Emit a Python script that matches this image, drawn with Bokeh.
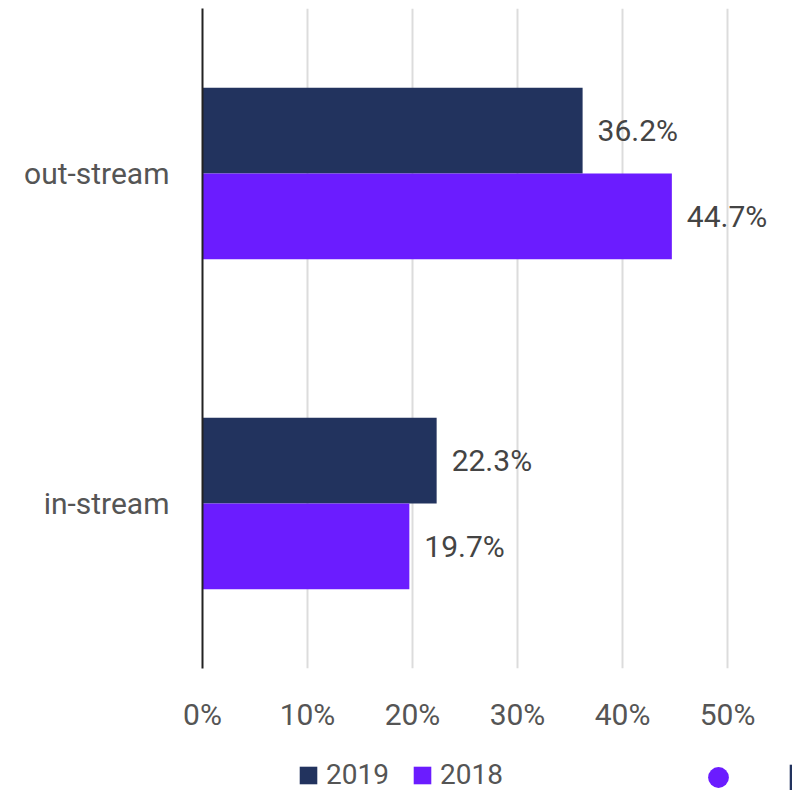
from bokeh.plotting import figure
from bokeh.layouts import column
from bokeh.models import ColumnDataSource, Range1d, FactorRange, Legend, LegendItem, FixedTicker
from bokeh.transform import dodge
from bokeh.core.properties import value
from bokeh.embed import file_html
from bokeh.resources import INLINE

# ---- data ----
categories = ["in-stream", "out-stream"]
series = ["2019", "2018"]
values_2019 = [22.3, 36.2]
values_2018 = [19.7, 44.7]
x_ticks = [0, 10, 20, 30, 40, 50]
x_tick_labels = ["0%", "10%", "20%", "30%", "40%", "50%"]

# ---- styles ----
C2019 = "#22335e"
C2018 = "#6b1cff"
FONT = "Roboto"

src = ColumnDataSource(dict(
    cat=categories,
    v2019=values_2019,
    v2018=values_2018,
    l2019=[f"{v}%" for v in values_2019],
    l2018=[f"{v}%" for v in values_2018],
))

p = figure(width=792, height=740,
           y_range=FactorRange(*categories, range_padding=0),
           x_range=Range1d(0, 56.19),
           output_backend="svg", toolbar_location=None,
           min_border_left=202, min_border_right=0,
           min_border_top=8, min_border_bottom=72)
p.outline_line_color = None

r19 = p.hbar(y=dodge("cat", 0.13, range=p.y_range), left=0, right="v2019",
             height=0.26, fill_color=C2019, line_color=None, source=src)
r18 = p.hbar(y=dodge("cat", -0.13, range=p.y_range), left=0, right="v2018",
             height=0.26, fill_color=C2018, line_color=None, source=src)

for col, lab, off in (("v2019", "l2019", 0.13), ("v2018", "l2018", -0.13)):
    p.text(x=col, y=dodge("cat", off, range=p.y_range), text=lab,
           x_offset=15, text_align="left", text_baseline="middle",
           text_font=value(FONT), text_font_size="30px", text_color="#444444",
           source=src)

# grid
p.ygrid.grid_line_color = None
p.xgrid.ticker = FixedTicker(ticks=x_ticks)
p.xgrid.grid_line_color = "#dcdcdc"
p.xgrid.grid_line_width = 2

# x axis
p.xaxis.ticker = FixedTicker(ticks=x_ticks)
p.xaxis.major_label_overrides = {t: l for t, l in zip(x_ticks, x_tick_labels)}
p.xaxis.axis_line_color = None
p.xaxis.major_tick_line_color = None
p.xaxis.minor_tick_line_color = None
p.xaxis.major_label_standoff = 22
p.xaxis.major_label_text_font = FONT
p.xaxis.major_label_text_font_size = "30px"
p.xaxis.major_label_text_color = "#555555"

# y axis
p.yaxis.axis_line_color = "#222222"
p.yaxis.axis_line_width = 2
p.yaxis.major_tick_line_color = None
p.yaxis.minor_tick_line_color = None
p.yaxis.major_label_standoff = 27
p.yaxis.major_label_text_font = FONT
p.yaxis.major_label_text_font_size = "30px"
p.yaxis.major_label_text_color = "#555555"

# ---- legend strip (its frame is aligned with the chart frame, starting at x=202) ----
lg = figure(width=792, height=50, x_range=Range1d(0, 590), y_range=Range1d(0, 50),
            output_backend="svg", toolbar_location=None,
            x_axis_location=None, y_axis_location=None,
            min_border_left=0, min_border_right=0, min_border_top=0, min_border_bottom=0)
lg.outline_line_color = None
lg.xgrid.visible = False
lg.ygrid.visible = False

# key renderers sit outside the strip's visible range; only their legend glyphs show
k19 = lg.hbar(y=[-100], left=[0], right=[1], height=1, fill_color=C2019, line_color=None)
k18 = lg.hbar(y=[-100], left=[0], right=[1], height=1, fill_color=C2018, line_color=None)
dot = lg.scatter(x=[-100], y=[-100], marker="circle", fill_color=C2018, line_color=None)

common = dict(padding=0, margin=0, border_line_color=None, background_fill_alpha=0)
X0 = 202

legend = Legend(items=[LegendItem(label=series[0], renderers=[k19]),
                       LegendItem(label=series[1], renderers=[k18])],
                orientation="horizontal", location=(297 - X0, -1),
                glyph_width=22, glyph_height=22, label_standoff=7, spacing=22,
                label_text_font=FONT, label_text_font_size="28px",
                label_text_color="#555555", **common)
lg.add_layout(legend)

legend2 = Legend(items=[LegendItem(label=" ", renderers=[dot])],
                 location=(692 - X0, -12.7), glyph_width=52, glyph_height=52,
                 label_standoff=0, label_width=0, label_text_font_size="1px", **common)
lg.add_layout(legend2)

legend3 = Legend(items=[LegendItem(label=" ", renderers=[k19])],
                 location=(787 - X0, -2.8), glyph_width=22, glyph_height=32,
                 label_standoff=0, label_width=0, label_text_font_size="1px", **common)
lg.add_layout(legend3)

layout = column(p, lg, spacing=0)
open("out.html", "w").write(file_html(layout, INLINE))
